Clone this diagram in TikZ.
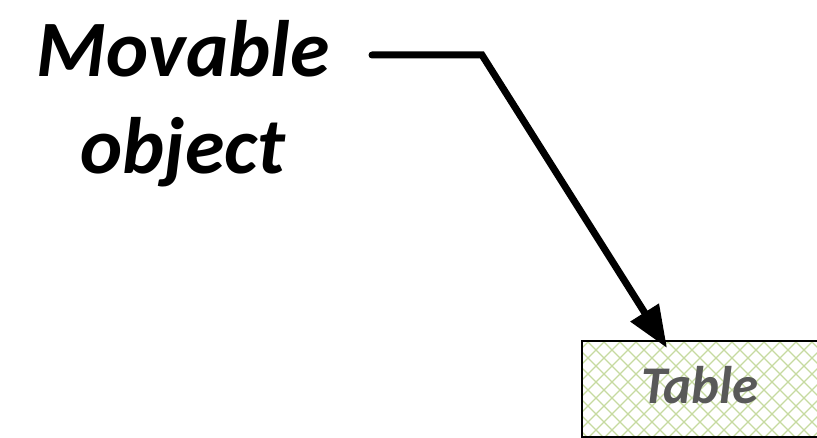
\documentclass[tikz,border=0pt]{standalone}
\usepackage{fontspec}
\setmainfont{Carlito}
\usetikzlibrary{arrows.meta}
\definecolor{hatch}{RGB}{198,218,160}
\definecolor{labelgray}{RGB}{89,89,89}
\tikzset{
  bigtext/.style={font=\fontsize{80}{97}\selectfont\bfseries\itshape, align=center, inner sep=0pt},
  tabletext/.style={font=\fontsize{53}{53}\selectfont\bfseries\itshape, text=labelgray, inner sep=0pt},
  tablebox/.style={draw=black, line width=2.5pt, minimum width=250pt, minimum height=96pt, inner sep=0pt},
  pointer/.style={line width=7pt, line cap=round, line join=miter, -{Triangle[length=42pt,width=32pt]}}
}
\begin{document}
\begin{tikzpicture}[x=1pt,y=-1pt]
\useasboundingbox (0,0) rectangle (817,438);
% hatch pattern inside the table box
\begin{scope}
\clip (582,341) rectangle (832,437);
\foreach \k in {-20,...,30} {
  \draw[hatch, line width=1.2pt] ({480+\k*16},330) -- ({480+\k*16+120},450);
  \draw[hatch, line width=1.2pt] ({480+\k*16},450) -- ({480+\k*16+120},330);
}
\end{scope}
\node[tablebox] (table) at (707,389) {};
\node[tabletext, anchor=base] (tlabel) at (700,403) {Table};
\node[bigtext, anchor=base] (movable) at (183,174) {Movable\\object};
\coordinate (start) at (372,55);
\coordinate (bend) at (482,55);
\coordinate (tip) at (667,348);
\draw[pointer] (start) -- (bend) -- (tip);
\end{tikzpicture}
\end{document}
